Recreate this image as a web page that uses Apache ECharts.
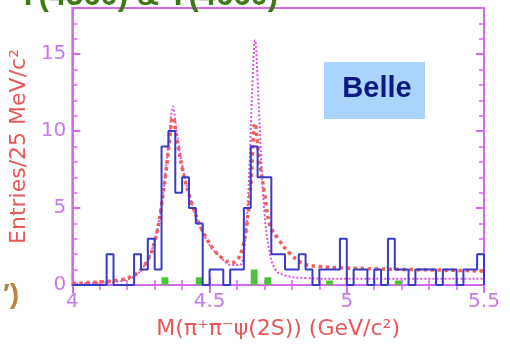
<!DOCTYPE html>
<html>
<head>
<meta charset="utf-8">
<style>html,body{margin:0;padding:0;background:#fff;}#c{width:510px;height:346px;}</style>
<script src="https://cdn.jsdelivr.net/npm/echarts@6/dist/echarts.min.js"></script>
</head>
<body>
<div id="c"></div>
<script>
// ---- data ----
const binStart = 4.0;
const binWidth = 0.025;
const counts = [0,0,0,0,0,2,0,0,0,2, 1,3,1,9,10,6,7,5,4,0, 1,1,0,1,1,5,9,7,7,2, 2,1,1,2,1,0,1,1,1,3, 0,1,1,0,1,0,3,1,1,0, 1,1,1,0,1,1,0,1,1,2];
const greenCounts = [0,0,0,0,0,0,0,0,0,0, 0,0,0,0.5,0,0,0,0,0.5,0, 0,0,0,0,0,0,1.0,0,0.5,0, 0,0,0,0,0,0,0,0.3,0,0, 0,0,0,0,0,0,0,0.3,0,0, 0,0,0,0,0,0,0,0,0,0];
const fitX = [4.00,4.10,4.18,4.22,4.25,4.28,4.30,4.32,4.34,4.355,4.366,4.38,4.40,4.43,4.46,4.49,4.52,4.55,4.58,4.60,4.62,4.635,4.65,4.666,4.68,4.70,4.72,4.75,4.79,4.84,4.90,5.00,5.10,5.25,5.40,5.50];
const fitY = [0.1,0.2,0.35,0.6,1.0,1.8,2.8,4.6,7.2,9.5,10.9,9.6,7.6,5.6,4.1,3.0,2.2,1.7,1.45,1.6,2.4,3.8,6.5,10.5,8.3,6.0,3.9,3.0,2.1,1.4,1.2,1.1,1.05,1.0,0.95,0.9];
const altX = [4.00,4.15,4.22,4.26,4.29,4.32,4.34,4.355,4.366,4.38,4.40,4.43,4.46,4.50,4.54,4.58,4.61,4.63,4.645,4.655,4.666,4.677,4.69,4.70,4.715,4.74,4.78,4.85,5.00,5.20,5.50];
const altY = [0.1,0.2,0.5,1.2,2.3,4.6,7.4,10.0,11.6,10.0,7.8,5.6,4.0,2.6,1.8,1.3,1.3,3.0,7.5,12.5,15.9,12.5,7.5,4.7,2.5,1.0,0.6,0.45,0.4,0.4,0.4];
const xTicks = [4, 4.5, 5, 5.5];
const yTicks = [0, 5, 10, 15];

// ---- build ----
function stepData(arr){
  const d = [[binStart, 0]];
  arr.forEach((c,i)=>d.push([binStart + i*binWidth, c]));
  const end = binStart + arr.length*binWidth;
  d.push([end, arr[arr.length-1]]);
  d.push([end, 0]);
  return d;
}
const zip = (a,b)=>a.map((v,i)=>[v,b[i]]);

const frame = '#d66ae8';
const labCol = '#c87be6';
const nameCol = '#e85858';
const xMin = xTicks[0], xMax = xTicks[xTicks.length-1];

const baseX = {type:'value', min:xMin, max:xMax, interval:0.5, splitLine:{show:false},
  axisLine:{show:true, lineStyle:{color:frame, width:2}}};
const baseY = {type:'value', min:0, max:18, splitLine:{show:false},
  axisLine:{show:true, lineStyle:{color:frame, width:2}}};

const chart = echarts.init(document.getElementById('c'));
chart.setOption({
  animation:false,
  backgroundColor:'#ffffff',
  grid:{left:68, right:26, top:8, bottom:61, show:true, borderColor:frame, borderWidth:2},
  xAxis:[
    Object.assign({}, baseX, {position:'bottom',
      axisTick:{inside:true, length:8, lineStyle:{color:frame, width:2}},
      minorTick:{show:true, splitNumber:5, length:5, lineStyle:{color:frame, width:1.5}},
      axisLabel:{color:labCol, fontSize:20, fontFamily:'DejaVu Sans', margin:7,
        formatter:v=>xTicks.indexOf(v)>=0?String(v):''},
      name:'M(π⁺π⁻ψ(2S)) (GeV/c²)', nameLocation:'middle', nameGap:33,
      nameTextStyle:{color:nameCol, fontSize:22, fontFamily:'DejaVu Sans'}}),
    Object.assign({}, baseX, {position:'top',
      axisTick:{inside:true, length:8, lineStyle:{color:frame, width:2}},
      minorTick:{show:true, splitNumber:5, length:5, lineStyle:{color:frame, width:1.5}},
      axisLabel:{show:false}})
  ],
  yAxis:[
    Object.assign({}, baseY, {position:'left', interval:5,
      axisTick:{inside:true, length:8, lineStyle:{color:frame, width:2}},
      axisLabel:{color:labCol, fontSize:20, fontFamily:'DejaVu Sans', margin:6, showMaxLabel:false,
        formatter:v=>yTicks.indexOf(v)>=0?String(v):''},
      name:'Entries/25 MeV/c²', nameLocation:'middle', nameGap:33,
      nameTextStyle:{color:nameCol, fontSize:22, fontFamily:'DejaVu Sans'}}),
    Object.assign({}, baseY, {position:'left', interval:1,
      axisTick:{inside:true, length:5, lineStyle:{color:frame, width:1.5}},
      axisLabel:{show:false}}),
    Object.assign({}, baseY, {position:'right', interval:5,
      axisTick:{inside:true, length:8, lineStyle:{color:frame, width:2}},
      axisLabel:{show:false}}),
    Object.assign({}, baseY, {position:'right', interval:1,
      axisTick:{inside:true, length:5, lineStyle:{color:frame, width:1.5}},
      axisLabel:{show:false}})
  ],
  series:[
    {type:'line', name:'green', step:'end', data:stepData(greenCounts), symbol:'none',
      lineStyle:{width:0}, areaStyle:{color:'#4cc23a', opacity:1}, z:2},
    {type:'line', name:'alt', data:zip(altX, altY), smooth:0.4, symbol:'none',
      lineStyle:{color:'#e050e4', width:2, type:'dotted'}, z:3},
    {type:'line', name:'fit', data:zip(fitX, fitY), smooth:0.4, symbol:'none',
      lineStyle:{color:'#f0605a', width:3.5, type:'dotted'}, z:4},
    {type:'line', name:'data', step:'end', data:stepData(counts), symbol:'none',
      lineStyle:{color:'#3a3ac8', width:2}, z:5}
  ],
  graphic:[
    {type:'rect', shape:{x:324, y:62, width:101, height:57}, style:{fill:'#a9d5fd'}, z:10},
    {type:'text', style:{text:'Belle', x:377, y:89, textAlign:'center', textVerticalAlign:'middle',
      font:'bold 29px "Liberation Sans", Arial, sans-serif', fill:'#0b1a7c'}, z:11},
    {type:'text', style:{text:'Y(4360) & Y(4660)', x:278, y:-4, textAlign:'right', textVerticalAlign:'middle',
      font:'bold 31px "Liberation Sans", Arial, sans-serif', fill:'#3d7a12'}, z:11},
    {type:'text', style:{text:'′)', x:19, y:295, textAlign:'right', textVerticalAlign:'middle',
      font:'bold 28px "Liberation Sans", Arial, sans-serif', fill:'#b8843e'}, z:11}
  ]
});
</script>
</body>
</html>
